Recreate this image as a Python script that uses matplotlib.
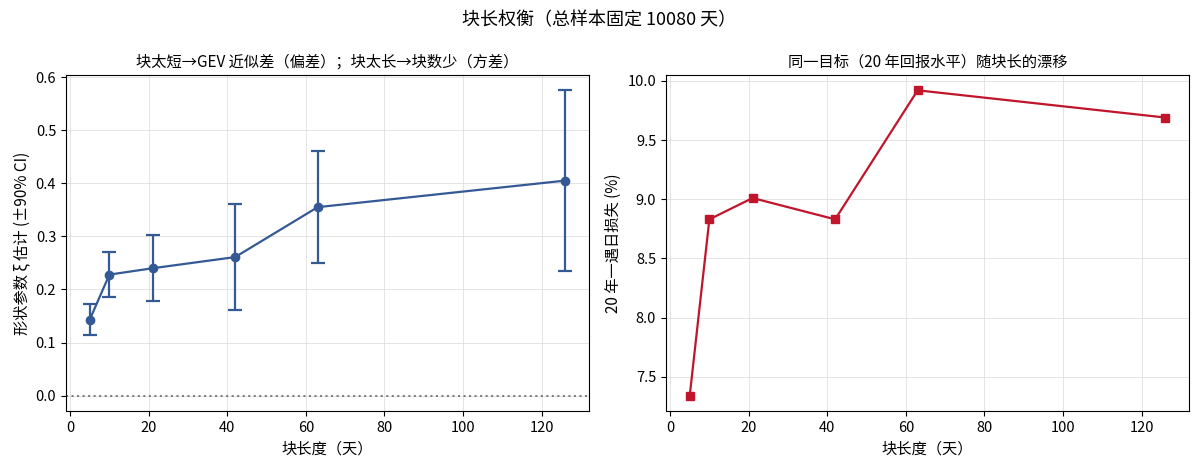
import matplotlib
matplotlib.use("Agg")
import matplotlib.pyplot as plt

plt.rcParams['font.family'] = ['Noto Sans CJK SC', 'DejaVu Sans']
plt.rcParams['axes.unicode_minus'] = False

block_len = [5, 10, 21, 42, 63, 126]
xi_est = [0.143, 0.228, 0.240, 0.261, 0.355, 0.405]
xi_err = [0.029, 0.043, 0.062, 0.100, 0.105, 0.170]
rl20 = [7.34, 8.83, 9.01, 8.83, 9.92, 9.69]

blue = '#345995'
red = '#c0152a'

fig, (ax1, ax2) = plt.subplots(1, 2, figsize=(11.99, 4.69), dpi=100)
fig.subplots_adjust(left=0.055, right=0.9917, top=0.840, bottom=0.1237, wspace=0.147)

ax1.errorbar(block_len, xi_est, yerr=xi_err, color=blue, marker='o', ms=6,
             capsize=5, lw=1.6, elinewidth=1.6, capthick=1.6)
ax1.axhline(0, color='gray', ls=':', lw=1.5)
ax1.set_title('块太短→GEV 近似差（偏差）；块太长→块数少（方差）', fontsize=11)
ax1.set_xlabel('块长度（天）', fontsize=11)
ax1.set_ylabel('形状参数 ξ 估计 (±90% CI)', fontsize=11)
ax1.grid(True, color='#dddddd', lw=0.7, alpha=0.8)

ax2.plot(block_len, rl20, color=red, marker='s', ms=6, lw=1.6)
ax2.set_title('同一目标（20 年回报水平）随块长的漂移', fontsize=11)
ax2.set_xlabel('块长度（天）', fontsize=11)
ax2.set_ylabel('20 年一遇日损失 (%)', fontsize=11)
ax2.grid(True, color='#dddddd', lw=0.7, alpha=0.8)

for ax in (ax1, ax2):
    ax.tick_params(labelsize=10.5)

fig.suptitle('块长权衡（总样本固定 10080 天）', fontsize=13, y=0.975)
fig.savefig('out.png', dpi=100)
